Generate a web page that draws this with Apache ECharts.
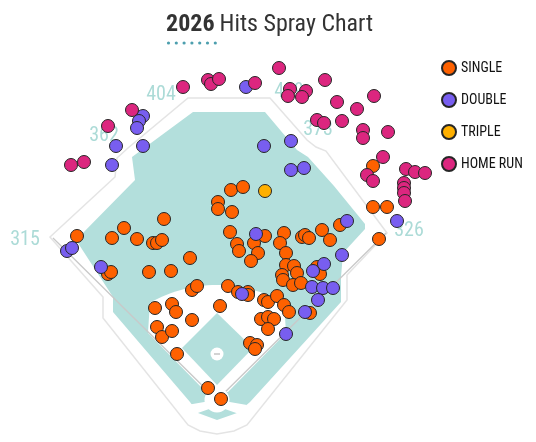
<!DOCTYPE html>
<html><head><meta charset="utf-8">
<script src="https://cdn.jsdelivr.net/npm/echarts/dist/echarts.min.js"></script>
<style>html,body{margin:0;padding:0;background:#fff}#c{width:536px;height:442px}</style>
</head><body><div id="c"></div>
<script>
// Hit locations, relative to home plate (x to the right, y toward center field), chart units
const categories = ['SINGLE', 'DOUBLE', 'TRIPLE', 'HOME RUN'];
const singles = [
  [156,234],[156,193],[170,193],[162,161],[14,210],[26,213],[1,198],[1,191],[15,188],[13,168],
  [48,164],[20,156],[22,149],[37,157],[41,147],[34,139],[67,167],[63,157],[69,147],[85,163],
  [88,165],[92,162],[105,170],[113,160],[123,175],[69,135],[77,134],[80,127],[65,125],[66,120],
  [100,133],[103,126],[76,115],[84,117],[11,114],[21,108],[31,108],[31,105],[47,100],[51,98],
  [60,104],[67,95],[72,88],[93,87],[44,81],[51,83],[57,81],[51,71],[33,57],[40,55],[38,51],
  [3,94],[-68,128],[-46,129],[-25,110],[-20,114],[-62,92],[-45,96],[-41,88],[-25,80],[-60,73],
  [-55,63],[-45,69],[-40,46],[-9,12],[4,1],[-140,164],[-109,126],[-106,128],[-105,162],[-93,172],
  [-80,161],[-64,157],[-60,157],[-55,160],[-53,181],[-27,142]
];
const doubles = [
  [29,313],[-74,284],[-78,279],[-80,272],[-101,254],[-74,254],[47,254],[74,259],[-105,235],[74,230],
  [87,232],[180,179],[130,179],[39,166],[125,145],[96,129],[107,136],[95,113],[106,112],[116,112],
  [25,106],[101,100],[88,88],[69,66],[-150,149],[-145,152],[-116,133]
];
const triples = [[48,209]];
const homeRuns = [
  [62,332],[-34,313],[-9,320],[-6,316],[2,321],[38,317],[73,311],[71,304],[89,309],[85,303],
  [108,320],[120,298],[157,304],[140,291],[100,280],[107,277],[125,279],[146,270],[146,262],[171,268],
  [-85,290],[-109,274],[-146,235],[-133,238],[166,243],[150,225],[156,219],[189,231],[198,228],[208,227],
  [187,217],[187,212],[187,207],[188,199]
];
const distanceLabels = ['315', '362', '404', '409', '373', '326'];
const titleYear = '2026';
const titleText = 'Hits Spray Chart';

const colors = ['#fe6100', '#785ef0', '#ffb000', '#dc267f'];
const FONT = "'Roboto Condensed','Liberation Sans Narrow','Arial Narrow',Roboto,sans-serif";

function arcPts(cx, cy, r, a0, a1, n) {
  const p = [];
  for (let i = 0; i <= n; i++) {
    const a = a0 + (a1 - a0) * i / n;
    p.push([cx + r * Math.sin(a), cy - r * Math.cos(a)]);
  }
  return p;
}

const TEAL = '#b3dfdc';
const graphics = [
  // stands / wall outline
  { type: 'polygon', shape: { points: [[50,237],[115,177],[117,158],[128,148],[188,98],[270,98],[307,140],[316,147],[326,151],[387,233],[347,275],[347,300],[247,425],[234,431],[217,434],[200,431],[188,425],[103,318],[103,297]] },
    style: { fill: '#fff', stroke: '#e4e4e4', lineWidth: 1.5 } },
  // grass
  { type: 'polygon', shape: { points: [[193,112],[265,112],[297,150],[308,157],[334,186],[365,224],[365,229],[343,253],[341,277],[341,302],[250,402],[237,413],[217,420],[198,413],[190,402],[113,312],[113,297],[76,240],[135,180],[132,157]] },
    style: { fill: TEAL } },
  // infield dirt
  { type: 'polygon', shape: { points: [[148,333]].concat(arcPts(217,420,135,-0.52,0.52,30), [[286,333],[228,392],[206,392]]) },
    style: { fill: '#fff' } },
  // infield grass
  { type: 'polygon', shape: { points: [[217,313],[253,348],[217,385],[182,348]] }, style: { fill: TEAL } },
  // foul lines
  { type: 'polyline', shape: { points: [[53,238],[217,400],[386,233]] }, style: { stroke: '#c9c9c9', lineWidth: 1.3, fill: null } },
  // home plate area
  { type: 'circle', shape: { cx: 217, cy: 400, r: 12.5 }, style: { fill: '#fff' } },
  { type: 'polygon', shape: { points: [[187,405],[210,401],[212,408],[195,414]] }, style: { fill: '#fff' } },
  { type: 'polygon', shape: { points: [[224,401],[247,405],[239,414],[222,408]] }, style: { fill: '#fff' } },
  // mound
  { type: 'circle', shape: { cx: 217, cy: 354, r: 6.5 }, style: { fill: '#fff' } },
  { type: 'line', shape: { x1: 214, y1: 354, x2: 220, y2: 354 }, style: { stroke: '#c4c4c4', lineWidth: 1.5 } }
];
const labelPos = [[25,240],[104,136],[161,95],[289,92],[318,130],[409,231]];
distanceLabels.forEach((t, i) => {
  graphics.push({ type: 'text', x: labelPos[i][0], y: labelPos[i][1],
    style: { text: t, fill: '#acdbd7', font: '20px ' + FONT, textAlign: 'center', textVerticalAlign: 'middle' } });
});
// title underline dots
for (let i = 0; i < 7; i++) {
  graphics.push({ type: 'circle', shape: { cx: 168.5 + i * 7.8, cy: 43, r: 1.6 }, style: { fill: '#4d9fae' } });
}

const seriesData = [singles, doubles, triples, homeRuns];
const chart = echarts.init(document.getElementById('c'), null, { renderer: 'canvas' });
chart.setOption({
  animation: false,
  backgroundColor: '#fff',
  title: {
    text: '{a|' + titleYear + '} {b|' + titleText + '}',
    left: 161, top: 8,
    textStyle: {
      rich: {
        a: { fontFamily: FONT, fontSize: 24, fontWeight: 'bold', color: '#333' },
        b: { fontFamily: FONT, fontSize: 24, fontWeight: 'normal', color: '#333' }
      }
    }
  },
  legend: {
    orient: 'vertical', left: 436, top: 55, itemWidth: 14, itemHeight: 14, itemGap: 16,
    icon: 'circle', data: categories,
    textStyle: { fontFamily: FONT, fontSize: 14, color: '#111' }
  },
  grid: { left: 0, right: 0, top: 0, bottom: 0 },
  xAxis: { type: 'value', min: -217, max: 319, show: false },
  yAxis: { type: 'value', min: -42, max: 400, show: false },
  graphic: { elements: graphics },
  series: categories.map((name, i) => ({
    name, type: 'scatter', data: seriesData[i], symbolSize: 13,
    itemStyle: { color: colors[i], borderColor: '#262626', borderWidth: 1, opacity: 1 },
    emphasis: { disabled: true }
  }))
});
</script></body></html>
